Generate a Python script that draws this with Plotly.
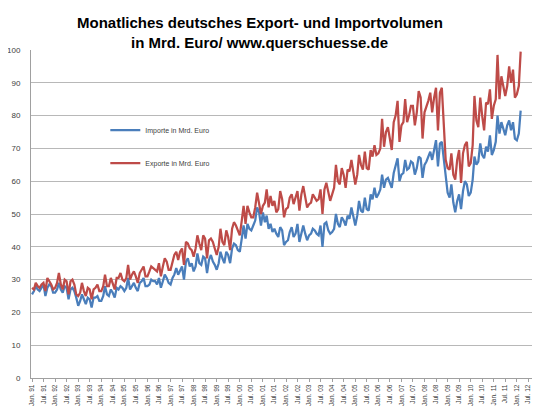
import plotly.graph_objects as go
import pandas as pd

# Monthly values in Mrd. Euro, Jan 1991 .. Mar 2012 (one row per year)
exporte = [
    27.5, 27.0, 29.0, 28.0, 27.5, 28.5, 29.0, 26.5, 30.5, 29.5, 28.5, 27.0,  # 1991
    27.5, 29.0, 32.0, 28.5, 27.0, 30.0, 29.5, 25.5, 29.5, 30.0, 28.5, 25.5,  # 1992
    25.0, 26.0, 29.0, 26.5, 25.0, 27.5, 27.0, 24.0, 27.0, 27.5, 28.5, 26.5,  # 1993
    26.5, 28.0, 31.5, 28.0, 28.0, 30.5, 28.5, 27.0, 30.5, 30.5, 32.0, 30.0,  # 1994
    29.5, 30.5, 34.5, 30.0, 31.5, 32.5, 31.0, 29.0, 32.0, 33.0, 34.0, 31.0,  # 1995
    31.0, 32.5, 34.0, 33.5, 33.0, 32.5, 35.0, 31.0, 34.0, 36.5, 35.5, 33.0,  # 1996
    33.0, 35.0, 37.5, 38.5, 36.0, 38.5, 39.5, 34.5, 41.5, 41.0, 39.5, 39.0,  # 1997
    37.0, 39.5, 43.5, 41.0, 39.0, 43.5, 42.5, 36.5, 42.0, 42.5, 41.5, 39.5,  # 1998
    37.5, 40.0, 45.5, 41.5, 40.5, 45.0, 43.0, 39.0, 45.5, 47.5, 46.5, 45.0,  # 1999
    43.5, 48.0, 52.5, 47.0, 52.5, 50.5, 49.0, 49.0, 52.0, 56.5, 53.0, 50.0,  # 2000
    52.5, 53.5, 57.5, 52.0, 55.5, 52.5, 54.0, 50.5, 51.5, 57.0, 54.5, 49.0,  # 2001
    51.5, 52.0, 55.0, 56.0, 53.0, 55.5, 57.0, 51.0, 56.0, 58.5, 55.5, 52.0,  # 2002
    53.0, 53.5, 56.0, 55.0, 54.0, 54.5, 57.5, 50.0, 57.5, 59.5, 56.5, 54.0,  # 2003
    56.0, 58.0, 65.0, 60.0, 59.0, 64.0, 62.0, 58.0, 63.5, 63.0, 66.5, 62.0,  # 2004
    59.0, 62.0, 68.0, 65.0, 63.5, 69.0, 64.0, 63.5, 69.5, 67.5, 71.0, 68.0,  # 2005
    68.5, 70.0, 79.0, 70.5, 75.0, 76.5, 73.0, 69.5, 78.0, 80.0, 84.5, 72.0,  # 2006
    77.0, 78.0, 85.0, 78.0, 80.0, 83.0, 83.0, 77.0, 81.0, 87.5, 85.5, 73.0,  # 2007
    81.0, 82.5, 84.5, 87.0, 81.0, 85.5, 88.5, 75.5, 87.0, 88.5, 77.0, 66.5,  # 2008
    64.0, 63.5, 68.5, 62.0, 60.5, 66.5, 69.5, 59.5, 68.5, 71.0, 72.0, 64.5,  # 2009
    65.5, 71.0, 86.0, 78.5, 76.5, 85.5, 80.0, 75.5, 84.0, 83.5, 88.0, 79.0,  # 2010
    83.0, 85.0, 98.5, 85.0, 92.0, 88.5, 86.0, 89.0, 95.0, 90.0, 94.0, 85.5,  # 2011
    86.5, 89.0, 99.5,                                                        # 2012
]

importe = [
    25.5, 26.5, 28.0, 27.0, 26.5, 27.5, 28.5, 25.0, 27.5, 28.5, 28.0, 26.0,  # 1991
    26.0, 27.0, 29.0, 27.0, 26.0, 28.0, 27.5, 24.0, 27.0, 27.5, 26.5, 24.5,  # 1992
    22.0, 23.5, 25.5, 24.0, 22.5, 24.5, 24.0, 21.5, 24.5, 24.5, 25.0, 23.5,  # 1993
    23.5, 25.0, 28.0, 25.5, 25.0, 27.0, 26.0, 24.5, 27.5, 27.0, 28.0, 27.5,  # 1994
    26.5, 27.5, 30.5, 27.0, 28.0, 29.0, 27.5, 26.5, 29.0, 29.5, 30.5, 28.0,  # 1995
    28.0, 28.5, 30.0, 29.5, 29.5, 28.5, 30.5, 27.5, 29.5, 31.5, 30.5, 29.0,  # 1996
    28.5, 30.5, 31.5, 33.5, 31.5, 33.0, 34.0, 30.0, 35.5, 36.5, 34.0, 35.0,  # 1997
    32.5, 34.0, 38.0, 35.0, 34.5, 37.0, 36.5, 32.0, 36.0, 37.5, 35.5, 34.5,  # 1998
    33.0, 35.0, 38.5, 36.5, 35.0, 38.5, 37.5, 35.0, 39.5, 41.0, 40.5, 39.0,  # 1999
    38.5, 42.5, 46.5, 42.5, 47.0, 45.5, 45.0, 46.5, 48.0, 52.0, 50.5, 46.5,  # 2000
    50.5, 47.5, 49.5, 45.5, 47.0, 44.5, 45.5, 44.0, 43.0, 46.0, 45.0, 40.5,  # 2001
    41.5, 42.0, 44.5, 46.0, 43.0, 44.0, 47.0, 41.5, 44.0, 46.5, 44.0, 42.0,  # 2002
    43.5, 44.0, 45.5, 45.0, 44.0, 43.5, 46.5, 40.0, 47.0, 47.5, 45.0, 44.0,  # 2003
    44.5, 45.5, 50.0, 47.0, 46.0, 49.0, 48.0, 46.5, 49.5, 48.5, 52.0, 49.0,  # 2004
    46.5, 49.5, 54.0, 51.0, 50.5, 55.0, 51.5, 51.0, 56.0, 54.5, 58.0, 55.0,  # 2005
    56.0, 57.5, 62.0, 58.0, 60.5, 61.0, 59.5, 58.0, 62.5, 65.0, 67.0, 60.0,  # 2006
    62.0, 62.5, 66.5, 63.5, 64.0, 66.0, 65.5, 62.0, 64.0, 67.5, 67.0, 61.0,  # 2007
    65.0, 66.0, 67.5, 69.0, 66.5, 70.0, 72.5, 64.5, 71.5, 72.0, 66.0, 61.0,  # 2008
    56.5, 55.0, 59.0, 53.5, 50.5, 54.0, 56.0, 51.5, 57.0, 60.0, 59.0, 55.5,  # 2009
    56.5, 60.5, 67.5, 65.0, 66.0, 71.5, 68.0, 67.0, 70.5, 69.0, 74.0, 68.0,  # 2010
    69.5, 72.0, 80.0, 74.5, 78.0, 76.0, 74.0, 77.0, 78.5, 75.5, 78.0, 73.0,  # 2011
    72.5, 74.5, 81.5,                                                        # 2012
]

monate = pd.date_range("1991-01-01", periods=len(exporte), freq="MS")

title_line1 = "<b>Monatliches deutsches Export- und Importvolumen</b>"
title_line2 = "<b>in Mrd. Euro/ www.querschuesse.de</b>"
name_imp = "Importe in Mrd. Euro"
name_exp = "Exporte in Mrd. Euro"

FONT = "Liberation Sans, Arial, sans-serif"

fig = go.Figure()
fig.add_trace(go.Scatter(x=monate, y=importe, mode="lines", name=name_imp, legendgroup="imp",
                         line=dict(color="#4a7ebb", width=2.25)))
fig.add_trace(go.Scatter(x=monate, y=exporte, mode="lines", name=name_exp, legendgroup="exp",
                         line=dict(color="#be4b48", width=2.25)))

fig.add_annotation(text=title_line1, xref="paper", yref="paper", x=0.449, y=1.085,
                   xanchor="center", yanchor="middle", showarrow=False,
                   font=dict(family=FONT, size=15, color="black"))
fig.add_annotation(text=title_line2, xref="paper", yref="paper", x=0.449, y=1.024,
                   xanchor="center", yanchor="middle", showarrow=False,
                   font=dict(family=FONT, size=15, color="black"))

# the page places the figure 8 px from the top-left corner, so the figure is 8 px smaller
fig.update_layout(
    width=532, height=398,
    paper_bgcolor="white", plot_bgcolor="white",
    margin=dict(l=23, r=0, t=42, b=28),
    showlegend=True,
    legend=dict(x=0.146, y=0.80, xanchor="left", yanchor="top",
                font=dict(family=FONT, size=7, color="#404040"),
                bgcolor="rgba(0,0,0,0)", itemwidth=30, tracegroupgap=14,
                traceorder="grouped"),
    xaxis=dict(type="date", range=["1990-12-16", "2013-01-01"], tick0="1991-01-01", dtick="M6",
               tickformat="%b. %y", tickangle=-90, ticks="outside", ticklen=3, tickcolor="#a0a0a0",
               showline=True, linecolor="#a0a0a0", showgrid=False, automargin=False,
               tickfont=dict(family=FONT, size=6.5, color="#404040")),
    yaxis=dict(range=[0, 100], dtick=10, showgrid=True, gridcolor="#b8b8b8", gridwidth=1,
               showline=True, linecolor="#a0a0a0", zeroline=False, ticks="", automargin=False,
               ticklabelstandoff=8,
               tickfont=dict(family=FONT, size=8, color="#404040")),
)

fig.write_html("out.html")
